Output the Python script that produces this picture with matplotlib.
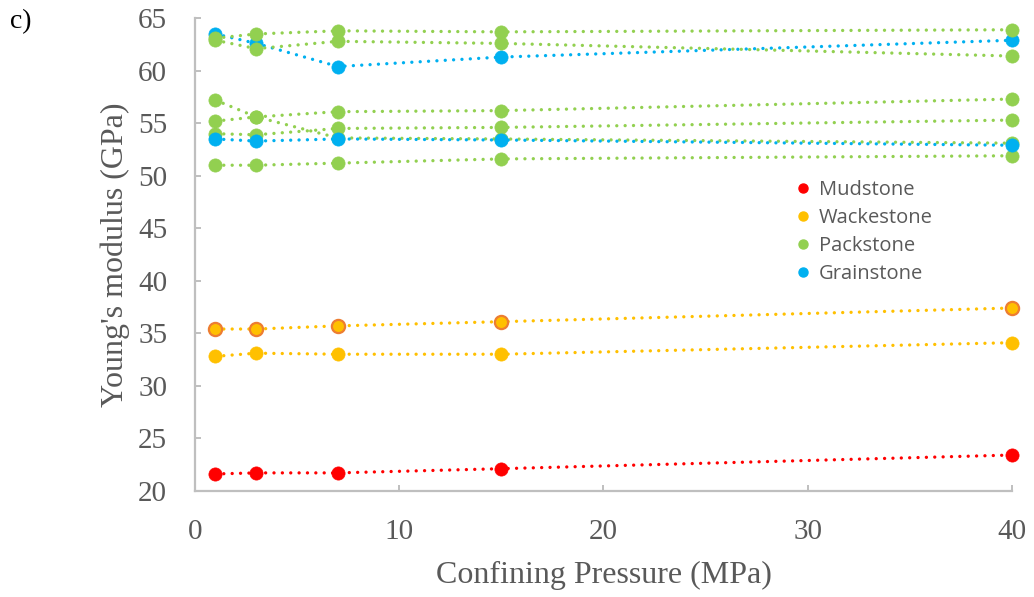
import matplotlib
matplotlib.use("Agg")
import matplotlib.pyplot as plt
from matplotlib.lines import Line2D

# confining pressure (MPa)
pressure = [1, 3, 7, 15, 40]

# Young's modulus (GPa), one list per sample
mudstone = [21.6, 21.7, 21.7, 22.1, 23.4]
wacke_1 = [35.4, 35.4, 35.7, 36.1, 37.4]
wacke_2 = [32.8, 33.1, 33.0, 33.0, 34.1]
pack_1 = [63.1, 63.5, 63.8, 63.7, 63.9]
pack_2 = [62.9, 62.1, 62.8, 62.6, 61.4]
pack_3 = [57.2, 55.6, 53.6, 53.5, 53.1]
pack_4 = [55.2, 55.6, 56.1, 56.2, 57.3]
pack_5 = [54.0, 53.9, 54.5, 54.6, 55.3]
pack_6 = [51.0, 51.0, 51.2, 51.6, 51.9]
grain_1 = [63.5, 62.6, 60.4, 61.3, 62.9]
grain_2 = [53.5, 53.3, 53.5, 53.4, 52.9]

rock_types = ["Mudstone", "Wackestone", "Packstone", "Grainstone"]
colors = {"Mudstone": "#FF0000", "Wackestone": "#FFC000",
          "Packstone": "#92D050", "Grainstone": "#00B0F0"}

gray = "#595959"
spine_gray = "#BFBFBF"
serif = "Liberation Serif"

fig = plt.figure(figsize=(10.34, 5.97), dpi=100)
ax = fig.add_axes([0.1886, 0.178, 0.79, 0.7915])


def draw(y, rock, edge=None):
    c = colors[rock]
    ax.plot(pressure, y, color=c, lw=2.4, dashes=(0.01, 2.5),
            dash_capstyle="round", marker="o", ms=9.5,
            markerfacecolor=c, markeredgecolor=edge if edge else c,
            markeredgewidth=1.6 if edge else 0.5, clip_on=False)


draw(mudstone, "Mudstone")
draw(wacke_1, "Wackestone", edge="#ED7D31")
draw(wacke_2, "Wackestone")
draw(grain_1, "Grainstone")
for s in [pack_1, pack_2, pack_3, pack_4, pack_5, pack_6]:
    draw(s, "Packstone")
draw(grain_2, "Grainstone")

ax.set_xlim(0, 40)
ax.set_ylim(20, 65)
ax.set_xticks([0, 10, 20, 30, 40])
ax.set_yticks(range(20, 66, 5))

for side in ["top", "right"]:
    ax.spines[side].set_visible(False)
for side in ["left", "bottom"]:
    ax.spines[side].set_color(spine_gray)
    ax.spines[side].set_linewidth(1.6)

ax.tick_params(direction="in", length=4.5, width=1.4, color=spine_gray,
               labelcolor=gray, labelsize=21)
ax.xaxis.set_tick_params(pad=20)
ax.yaxis.set_tick_params(pad=20)
for lab in ax.get_xticklabels() + ax.get_yticklabels():
    lab.set_fontfamily(serif)

ax.set_xlabel("Confining Pressure (MPa)", fontsize=23, family=serif,
              color=gray, labelpad=12)
ax.set_ylabel("Young's modulus (GPa)", fontsize=23, family=serif,
              color=gray, labelpad=6)

fig.text(0.01, 0.985, "c)", fontsize=20, family=serif, color="black",
         va="top", ha="left")

handles = [Line2D([], [], linestyle="none", marker="o", ms=6.5,
                  color=colors[r]) for r in rock_types]
leg = ax.legend(handles, rock_types, loc="upper left",
                bbox_to_anchor=(0.737, 0.657), frameon=False,
                borderaxespad=0, borderpad=0, handlelength=0.6,
                handletextpad=0.5, labelspacing=0.4,
                prop={"family": "Open Sans", "size": 14.5})
for t in leg.get_texts():
    t.set_color(gray)

fig.savefig("out.png", dpi=100)
